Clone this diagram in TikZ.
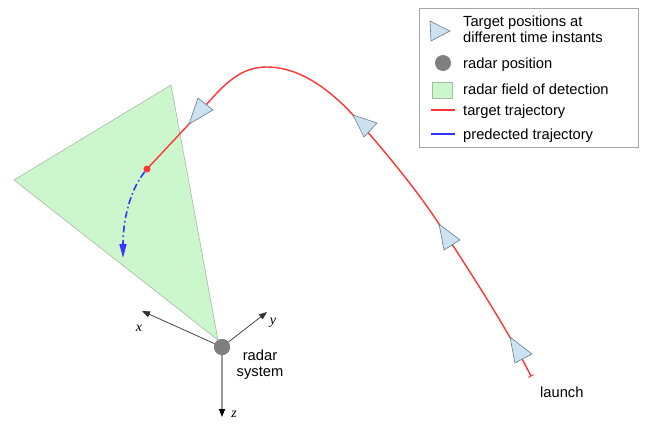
\documentclass[tikz,border=0pt]{standalone}
\usepackage{fontspec}
\setmainfont{Liberation Sans}
\newfontfamily\tms{Liberation Serif}
\usetikzlibrary{arrows.meta}
\definecolor{fieldgreen}{HTML}{CCF7CC}
\definecolor{fieldedge}{HTML}{A8B8A8}
\definecolor{tgtfill}{HTML}{CCE2F2}
\definecolor{tgtedge}{HTML}{6A7A88}
\definecolor{trajred}{HTML}{FF3535}
\definecolor{predblue}{HTML}{3535FF}
\definecolor{radargray}{HTML}{7F7F7F}
\tikzset{
  field/.style={fill=fieldgreen, draw=fieldedge, line width=0.6pt},
  tgt/.style={fill=tgtfill, draw=tgtedge, line width=0.6pt, line join=miter},
  traj/.style={draw=trajred, line width=1.4pt},
  pred/.style={draw=predblue, line width=1.6pt, dash pattern=on 7pt off 3pt on 1.5pt off 3pt,
    -{Triangle[length=14pt,width=7pt]}},
  axis/.style={draw=black!80, line width=0.7pt, -{Triangle[length=8pt,width=6pt]}},
  zaxis/.style={draw=black!40, line width=1.4pt, -{Triangle[length=8pt,width=6pt,color=black]}},
  radar/.style={circle, fill=radargray, minimum size=16pt, inner sep=0pt},
  lbl/.style={font=\fontsize{14.7}{16}\selectfont, inner sep=0pt},
  axlbl/.style={font=\tms\itshape\fontsize{14}{16}\selectfont, inner sep=0pt},
  legbox/.style={draw=black!35, fill=white, line width=0.8pt}
}
\begin{document}
\begin{tikzpicture}[x=1pt,y=-1pt]
\useasboundingbox (0,0) rectangle (647,424);
% field of detection
\draw[field] (14,180) -- (171,85) -- (218,340) -- cycle;
% radar and axes
\node[radar] (radar) at (222,347) {};
\coordinate (xend) at (142,311);
\coordinate (yend) at (267,312);
\coordinate (zend) at (222,417);
\draw[axis] (radar) -- (xend);
\draw[axis] (radar) -- (yend);
\draw[zaxis] (radar) -- (zend);
\node[radar] at (222,347) {};
\node[axlbl] (xl) at (139,328) {x};
\node[axlbl] (yl) at (273,323) {y};
\node[axlbl] (zl) at (234,414) {z};
\node[lbl, align=center, anchor=base] (rs) at (260,376) {radar\\system};
% trajectory
\coordinate (dotc) at (147,169);
\coordinate (launchpt) at (531,376);
\draw[traj] (dotc) -- (189,124) .. controls (220,90) and (235,67) .. (267,67)
  .. controls (300,67) and (330,90) .. (353,115)
  .. controls (395,163) and (420,195) .. (439,224)
  .. controls (470,272) and (505,325) .. (launchpt);
\draw[trajred, line width=0.9pt] (528.4,377.4) -- (533.6,374.6);
\node[circle, fill=trajred, minimum size=7pt, inner sep=0pt] (dot) at (dotc) {};
% predicted trajectory
\coordinate (predend) at (123,258);
\draw[pred] (dot) .. controls (130,190) and (123,220) .. (predend);
% target markers
\draw[tgt] (198,98) -- (189,124) -- (213,110) -- cycle;
\draw[tgt] (353,115) -- (364,137) -- (377,123) -- cycle;
\draw[tgt] (439,224) -- (444,250) -- (460,240) -- cycle;
\draw[tgt] (510,337) -- (515,363) -- (532,354) -- cycle;
\node[lbl, anchor=base west] (launch) at (540,397) {launch};
% legend
\draw[legbox] (419,8) rectangle (638,147);
\draw[tgt] (430,21) -- (431,41) -- (450,31) -- cycle;
\node[lbl, anchor=base west, align=left] (l1) at (463,42) {Target positions at\\different time instants};
\node[radar] (lr) at (443,63) {};
\node[lbl, anchor=base west] (l2) at (463,68) {radar position};
\draw[field] (432,82) rectangle (452,98);
\node[lbl, anchor=base west] (l3) at (463,94) {radar field of detection};
\draw[trajred, line width=1.4pt] (431,110) -- (455,110);
\node[lbl, anchor=base west] (l4) at (463,115) {target trajectory};
\draw[predblue, line width=1.6pt] (431,134) -- (455,134);
\node[lbl, anchor=base west] (l5) at (463,139) {predected trajectory};
\end{tikzpicture}
\end{document}
